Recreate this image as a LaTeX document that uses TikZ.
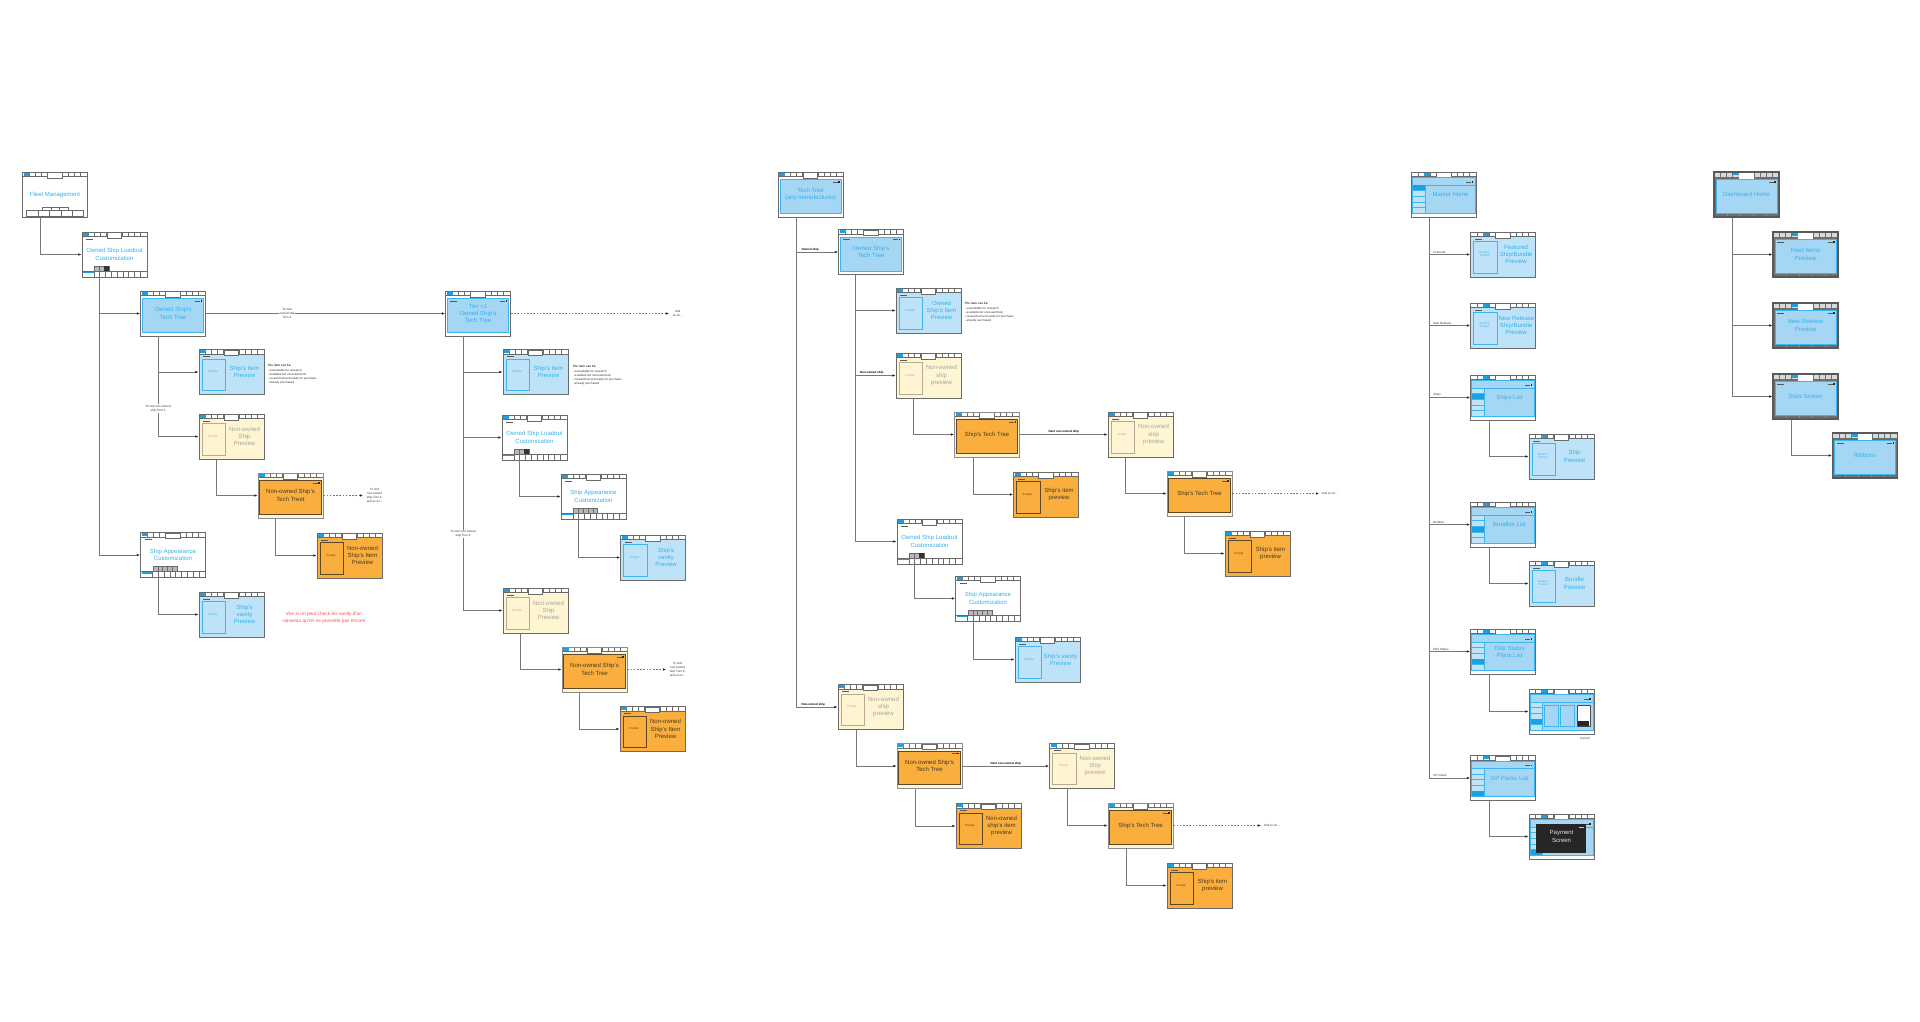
\documentclass[tikz,border=0pt]{standalone}
\usepackage{fontspec}
\setmainfont{Liberation Sans}
\usetikzlibrary{arrows.meta}

\definecolor{framegray}{HTML}{6A6A6A}
\definecolor{tabblue}{HTML}{1BA1E2}
\definecolor{skyfill}{HTML}{A5D7F5}
\definecolor{skyline}{HTML}{3DB5EE}
\definecolor{prevfill}{HTML}{BEE3F8}
\definecolor{txtblue}{HTML}{33B0EC}
\definecolor{cream}{HTML}{FFF5D2}
\definecolor{creamline}{HTML}{B3AB95}
\definecolor{orangefill}{HTML}{F9AE3E}
\definecolor{brownline}{HTML}{5C4727}
\definecolor{txtgray}{HTML}{A3A3A3}
\definecolor{txtdark}{HTML}{4A3A22}
\definecolor{dashgray}{HTML}{6E6E6E}
\definecolor{notered}{HTML}{FF4D4D}
\definecolor{linegray}{HTML}{787878}

\newcommand\scrfont{\fontsize{6}{7.3}\selectfont}
\newcommand\lblfont{\fontsize{3}{4.2}\selectfont}

% screen parts, from the north west corner (x right, y down), 65 x 45
\newcommand\bgfill[1]{\fill[#1] (0,0) rectangle (65,45);}
\newcommand\tabsbar[1]{%
    \fill[white] (0,0) rectangle (65,4.4);
    \foreach \x in {6.5,12.5,18.5,24.5,40,46,52,58}{\draw[framegray,line width=.3pt] (\x,0) -- (\x,4.4);}
    \draw[framegray,line width=.4pt] (0,4.4) -- (65,4.4);
    \fill[tabblue] (#1,.5) rectangle ++(6,3.2);
    \draw[framegray,line width=.4pt,fill=white] (25,.4) rectangle (39.5,6);}
\newcommand\closebtn{\fill[black!65] (54.5,9.6) rectangle (59.5,10.4); \fill[black!85] (60.3,9.2) rectangle (61.9,10.8);}
\newcommand\backbtn[1][6.6]{\fill[black!65] (4,#1) rectangle ++(7,.9);}
\newcommand\promptbox[1]{\draw[#1,line width=.7pt] (3,9.5) rectangle (26.5,41.2);}
\newcommand\fleetbar{%
    \foreach \x in {4,15.4,26.8,38.2,49.6}{\draw[framegray,line width=.4pt] (\x,38.6) rectangle ++(11.4,5.6);}
    \foreach \x in {20,28.5,37}{\draw[framegray,line width=.3pt,fill=white] (\x,35.6) rectangle ++(8.5,3);}}
\newcommand\loadbar[1]{%
    \draw[framegray,line width=.4pt] (0,39) -- (65,39);
    \fill[tabblue] (1,39.6) rectangle (11.8,41.2);
    \foreach \x in {11.8,17.6,...,64}{\draw[framegray,line width=.4pt] (\x,39) -- (\x,45);}
    \foreach \i in {1,...,#1}{\draw[framegray,line width=.3pt,fill=black!28] (7.7+4.8*\i,34) rectangle ++(4.8,5);}}
\newcommand\sidecells[1]{%
    \draw[skyline,line width=.5pt,fill=skyfill] (1.2,5.5) rectangle (63.8,41);
    \draw[skyline,line width=.5pt] (1.2,13) -- (63.8,13);
    \foreach \i in {1,...,5}{\draw[skyline,line width=.5pt,fill=skyfill!70] (1.2,7.4+5.6*\i) rectangle ++(12.5,5.6);}
    \fill[tabblue] (1.5,7.7+5.6*#1) rectangle ++(11.9,5);}
\newcommand\dashbar{%
    \fill[black!15] (0,0) rectangle (65,4.6);
    \foreach \x in {6.5,12.5,18.5,40,46,52,58}{\draw[dashgray,line width=.4pt] (\x,0) -- (\x,4.6);}
    \fill[tabblue] (18.5,.5) rectangle ++(6.5,3);
    \fill[white] (25,.5) rectangle (39.5,6.5);
    \draw[skyline,line width=.6pt,fill=skyfill] (1.8,7) rectangle (63.2,41);
    \foreach \x in {13,26,39,52}{\draw[black!45,line width=.4pt] (\x,41.5) -- (\x,44);}}

% whole screens
\newcommand\fleetdeco{\bgfill{white}\tabsbar{1}\fleetbar}
\newcommand\loaddeco{\bgfill{white}\tabsbar{1}\backbtn\loadbar{3}\fill[black!80] (22.1,34) rectangle ++(4.8,5);}
\newcommand\skindeco{\bgfill{white}\tabsbar{1}\backbtn\loadbar{5}}
\newcommand\treedeco[1]{\bgfill{white}\tabsbar{1}\draw[skyline,line width=.6pt,fill=skyfill] (1.8,7.3) rectangle (63.2,41.3);\closebtn#1}
\newcommand\prevdeco[2]{\bgfill{#1}\tabsbar{1}\backbtn\promptbox{#2}}
\newcommand\otreedeco{\bgfill{cream}\tabsbar{1}\draw[brownline,line width=.8pt,fill=orangefill] (1.8,7.6) rectangle (63.2,41.3);\closebtn}
\newcommand\mktdeco[1]{\bgfill{white}\tabsbar{12}\sidecells{#1}\closebtn}
\newcommand\mktprevdeco{\bgfill{prevfill}\tabsbar{12}\backbtn\promptbox{skyline}}
\newcommand\elitedeco{\mktdeco{4}%
    \draw[skyline,line width=.5pt,fill=skyfill] (15.5,16) rectangle (29,37.7) (31.5,16) rectangle (45.5,37.7);
    \draw[black!70,line width=.5pt,fill=white] (48,16) rectangle (61.3,37.7);
    \fill[black!85] (49,32.3) rectangle (60.3,36.7);}
\newcommand\paydeco{\mktdeco{5}\fill[black!85] (6.7,10) rectangle (57.3,39);\fill[white!80!black] (50,12.5) rectangle ++(5,.8);}
\newcommand\dashdeco[1]{\bgfill{dashgray}\dashbar\closebtn#1}

% name, centre, node style, screen parts, text
\newcommand\scrn[5]{%
    \begin{scope}[shift={(#2)}, xshift=-32.5pt, yshift=22.5pt]#4\end{scope}
    \node[screen, #3] (#1) at (#2) {#5};}

% prompt column + title, and list title
\newcommand\prm[2]{\parbox[c]{24pt}{\centering\fontsize{2.8}{3.4}\selectfont #1}\hspace{2pt}\parbox[c]{35pt}{\centering #2}}
\newcommand\lst[1]{\hspace*{13pt}\parbox[c]{48pt}{\centering #1}}
\newcommand\itemnote{\textbf{The item can be:}\\- unavailable for research,\\- available but unresearched,\\- researched and ready for purchase,\\- already purchased}

\tikzset{
    screen/.style={draw=framegray, line width=.9pt, minimum width=65pt, minimum height=45pt,
        inner sep=1pt, align=center, font=\scrfont, text=txtblue},
    graytxt/.style={text=txtgray},
    darktxt/.style={text=txtdark},
    otree/.style={draw=black!45, text=txtdark},
    darkframe/.style={draw=black!65, line width=1.2pt},
    conn/.style={draw=linegray, line width=.8pt, -{Latex[length=3.2pt,width=2.6pt,color=black!85]}},
    dots/.style={conn, dash pattern=on 1.6pt off 1.6pt},
    lbl/.style={font=\lblfont, align=center, text=black!80, inner sep=.6pt},
    onlbl/.style={lbl, fill=white},
    boldlbl/.style={lbl, font=\lblfont\bfseries, text=black},
    note/.style={lbl, align=left, anchor=north west},
    redtxt/.style={font=\fontsize{4.8}{7}\selectfont, align=center, text=notered, inner sep=0pt}
}

\begin{document}
\begin{tikzpicture}[x=1pt, y=-1pt]
    \useasboundingbox (0,0) rectangle (1920,1022);

    % fleet management
    \scrn{fm}{55,194.5}{}{\fleetdeco}{Fleet Management}
    \scrn{lo1}{114.5,254.5}{}{\loaddeco}{Owned Ship Loadout\\Customization}
    \scrn{ott1}{173,313.5}{}{\treedeco{}}{Owned Ship's\\Tech Tree}
    \scrn{sip1}{231.5,372}{}{\prevdeco{prevfill}{skyline}}{\prm{Prompt}{Ship's Item\\Preview}}
    \scrn{nop1}{231.5,436.5}{graytxt}{\prevdeco{cream}{creamline}}{\prm{Prompt}{Non-owned\\Ship\\Preview}}
    \scrn{ntt1}{290.5,495.5}{otree}{\otreedeco}{Non-owned Ship's\\Tech Treet}
    \scrn{nip1}{349.5,555.5}{darktxt}{\prevdeco{orangefill}{brownline}}{\prm{Prompt}{Non-owned\\Ship's Item\\Preview}}
    \scrn{sac1}{173,555}{}{\skindeco}{Ship Appearance\\Customization}
    \scrn{svp1}{231.5,614.5}{}{\prevdeco{prevfill}{skyline}}{\prm{Prompt}{Ship's\\vanity\\Preview}}
    \node[note] (n1) at (267,364) {\itemnote};
    \node[redtxt] (rmk) at (324,617.5) {Voir si on peut check les vanity d'un\\vaisseau qu'on ne possède pas encore};

    % next owned ship
    \scrn{ott2}{478,313.5}{}{\treedeco{\backbtn[9.6]}}{Tier +1\\Owned Ship's\\Tech Tree}
    \scrn{sip2}{535.5,372}{}{\prevdeco{prevfill}{skyline}}{\prm{Prompt}{Ship's Item\\Preview}}
    \scrn{lo2}{534.5,437.5}{}{\loaddeco}{Owned Ship Loadout\\Customization}
    \scrn{sac2}{593.5,496.5}{}{\skindeco}{Ship Appearance\\Customization}
    \scrn{svp2}{653,557.5}{}{\prevdeco{prevfill}{skyline}}{\prm{Prompt}{Ship's\\vanity\\Preview}}
    \scrn{nop2}{535.5,610.5}{graytxt}{\prevdeco{cream}{creamline}}{\prm{Prompt}{Non-owned\\Ship\\Preview}}
    \scrn{ntt2}{594.5,669.5}{otree}{\otreedeco}{Non-owned Ship's\\Tech Tree}
    \scrn{nip2}{652.5,729}{darktxt}{\prevdeco{orangefill}{brownline}}{\prm{Prompt}{Non-owned\\Ship's Item\\Preview}}
    \node[note] (n2) at (572,365) {\itemnote};

    % tech tree
    \scrn{tt3}{810.5,194.5}{}{\treedeco{}}{Tech Tree\\(any manufacturer)}
    \scrn{ott3}{871,252}{}{\treedeco{\backbtn[9.6]}}{Owned Ship's\\Tech Tree}
    \scrn{oip3}{928.5,310.5}{}{\prevdeco{prevfill}{skyline}}{\prm{Prompt}{Owned\\Ship's Item\\Preview}}
    \scrn{nop3}{928.5,375.5}{graytxt}{\prevdeco{cream}{creamline}}{\prm{Prompt}{Non-owned\\ship\\preview}}
    \scrn{stt3}{987,434.5}{otree}{\otreedeco}{Ship's Tech Tree}
    \scrn{sip3}{1046,494.5}{darktxt}{\prevdeco{orangefill}{brownline}}{\prm{Prompt}{Ship's item\\preview}}
    \scrn{nop3b}{1140.5,434.5}{graytxt}{\prevdeco{cream}{creamline}}{\prm{Prompt}{Non-owned\\ship\\preview}}
    \scrn{stt3b}{1199.5,493.5}{otree}{\otreedeco}{Ship's Tech Tree}
    \scrn{sip3b}{1257.5,553.5}{darktxt}{\prevdeco{orangefill}{brownline}}{\prm{Prompt}{Ship's item\\preview}}
    \scrn{lo3}{929.5,541.5}{}{\loaddeco}{Owned Ship Loadout\\Customization}
    \scrn{sac3}{988,598.5}{}{\skindeco}{Ship Appearance\\Customization}
    \scrn{svp3}{1047.5,659.5}{}{\prevdeco{prevfill}{skyline}}{\prm{Prompt}{Ship's vanity\\Preview}}
    \scrn{nop3c}{870.5,707}{graytxt}{\prevdeco{cream}{creamline}}{\prm{Prompt}{Non-owned\\ship\\preview}}
    \scrn{ntt3}{929.5,766}{otree}{\otreedeco}{Non-owned Ship's\\Tech Tree}
    \scrn{nip3}{988.5,826}{darktxt}{\prevdeco{orangefill}{brownline}}{\prm{Prompt}{Non-owned\\ship's item\\preview}}
    \scrn{nop3d}{1082,766}{graytxt}{\prevdeco{cream}{creamline}}{\prm{Prompt}{Non-owned\\Ship\\preview}}
    \scrn{stt3c}{1140.5,825.5}{otree}{\otreedeco}{Ship's Tech Tree}
    \scrn{sip3c}{1199.5,885.5}{darktxt}{\prevdeco{orangefill}{brownline}}{\prm{Prompt}{Ship's item\\preview}}
    \node[note] (n3) at (964,302) {\itemnote};

    % market
    \scrn{mh}{1444,194.5}{}{\mktdeco{1}}{\lst{Market Home}}
    \scrn{fsb}{1503,254.5}{}{\mktprevdeco}{\prm{Res/Pur\\Prompt}{Featured\\Ship/Bundle\\Preview}}
    \scrn{nrb}{1503,325.5}{}{\mktprevdeco}{\prm{Res/Pur\\Prompt}{\mbox{New Release}\\Ship/Bundle\\Preview}}
    \scrn{sl}{1503,397.5}{}{\mktdeco{2}}{\lst{Ships List}}
    \scrn{sp}{1561.5,456.5}{}{\mktprevdeco}{\prm{Res/Pur\\Prompt}{Ship\\Preview}}
    \scrn{bl}{1503,524.5}{}{\mktdeco{3}}{\lst{Bundles List}}
    \scrn{bp}{1561.5,583.5}{}{\mktprevdeco}{\prm{Res/Pur\\Prompt}{Bundle\\Preview}}
    \scrn{esl}{1503,651.5}{}{\mktdeco{4}}{\lst{Elite Status\\Plans List}}
    \scrn{esp}{1561.5,711.5}{}{\elitedeco}{}
    \node[lbl] (cnl) at (1585,738) {Cancel};
    \scrn{gpl}{1503,778}{}{\mktdeco{5}}{\lst{GP Packs List}}
    \scrn{pay}{1561.5,836.5}{text=white!90!black}{\paydeco}{Payment\\Screen}

    % dashboard
    \scrn{dh}{1746.5,194.5}{darkframe}{\dashdeco{}}{Dashboard Home}
    \scrn{fip}{1805.5,254.5}{darkframe}{\dashdeco{\backbtn[9.6]}}{Fleet Items\\Preview}
    \scrn{nrp}{1805.5,325.5}{darkframe}{\dashdeco{\backbtn[9.6]}}{New Release\\Preview}
    \scrn{ss}{1805.5,396.5}{darkframe}{\dashdeco{\backbtn[9.6]}}{Stats Screen}
    \scrn{rib}{1865,455.5}{darkframe}{\dashdeco{\backbtn[9.6]}}{Ribbons}

    % connectors
    \draw[conn] ([xshift=18pt]fm.south west) |- (lo1);
    \draw[conn] ([xshift=18pt]lo1.south west) |- (ott1);
    \draw[conn] ([xshift=18pt]lo1.south west) |- (sac1);
    \draw[conn] ([xshift=18pt]ott1.south west) |- (sip1);
    \draw[conn] ([xshift=18pt]ott1.south west) |- node[onlbl, pos=.36] (l1) {To next non-owned\\ship Tier+1} (nop1);
    \draw[conn] ([xshift=18pt]nop1.south west) |- (ntt1);
    \draw[conn] ([xshift=18pt]ntt1.south west) |- (nip1);
    \draw[conn] ([xshift=18pt]sac1.south west) |- (svp1);
    \draw[conn] (ott1) -- node[onlbl, pos=.34] (l2) {To next\\owned ship\\Tier+1} (ott2);
    \coordinate (e1) at (363,495.5);
    \draw[dots] (ntt1) -- (e1);
    \node[lbl, anchor=west] (l3) at ([xshift=3pt]e1) {To next\\non-owned\\ship Tier+2,\\and so on...};

    \draw[conn] ([xshift=18pt]ott2.south west) |- (sip2);
    \draw[conn] ([xshift=18pt]ott2.south west) |- (lo2);
    \draw[conn] ([xshift=18pt]ott2.south west) |- node[onlbl, pos=.36] (l4) {To next non-owned\\ship Tier+2} (nop2);
    \draw[conn] ([xshift=18pt]lo2.south west) |- (sac2);
    \draw[conn] ([xshift=18pt]sac2.south west) |- (svp2);
    \draw[conn] ([xshift=18pt]nop2.south west) |- (ntt2);
    \draw[conn] ([xshift=18pt]ntt2.south west) |- (nip2);
    \coordinate (e2) at (669,313.5);
    \draw[dots] (ott2) -- (e2);
    \node[lbl, anchor=west] (l5) at ([xshift=3pt]e2) {And\\so on...};
    \coordinate (e3) at (666,669.5);
    \draw[dots] (ntt2) -- (e3);
    \node[lbl, anchor=west] (l6) at ([xshift=3pt]e3) {To next\\non-owned\\ship Tier+3,\\and so on...};

    \draw[conn] ([xshift=19pt]tt3.south west) |- node[boldlbl, anchor=south west, pos=.55] (l7) {Owned ship} (ott3);
    \draw[conn] ([xshift=19pt]tt3.south west) |- node[boldlbl, anchor=south west, pos=.55] (l8) {Non-owned ship} (nop3c);
    \draw[conn] ([xshift=17pt]ott3.south west) |- (oip3);
    \draw[conn] ([xshift=17pt]ott3.south west) |- node[boldlbl, anchor=south west, pos=.55] (l9) {Non-owned ship} (nop3);
    \draw[conn] ([xshift=17pt]ott3.south west) |- (lo3);
    \draw[conn] ([xshift=18pt]nop3.south west) |- (stt3);
    \draw[conn] ([xshift=19pt]stt3.south west) |- (sip3);
    \draw[conn] (stt3) -- node[boldlbl, above] (l10) {Next non-owned ship} (nop3b);
    \draw[conn] ([xshift=18pt]nop3b.south west) |- (stt3b);
    \draw[conn] ([xshift=18pt]stt3b.south west) |- (sip3b);
    \coordinate (e4) at (1319,493.5);
    \draw[dots] (stt3b) -- (e4);
    \node[lbl, anchor=west] (l11) at ([xshift=2pt]e4) {And so on...};
    \draw[conn] ([xshift=18pt]lo3.south west) |- (sac3);
    \draw[conn] ([xshift=18pt]sac3.south west) |- (svp3);
    \draw[conn] ([xshift=19pt]nop3c.south west) |- (ntt3);
    \draw[conn] ([xshift=19pt]ntt3.south west) |- (nip3);
    \draw[conn] (ntt3) -- node[boldlbl, above] (l12) {Next non-owned ship} (nop3d);
    \draw[conn] ([xshift=18pt]nop3d.south west) |- (stt3c);
    \draw[conn] ([xshift=19pt]stt3c.south west) |- (sip3c);
    \coordinate (e5) at (1261,825.5);
    \draw[dots] (stt3c) -- (e5);
    \node[lbl, anchor=west] (l13) at ([xshift=2pt]e5) {And so on...};

    \draw[conn] ([xshift=18pt]mh.south west) |- node[lbl, anchor=south west, pos=.54] (m1) {Featured} (fsb);
    \draw[conn] ([xshift=18pt]mh.south west) |- node[lbl, anchor=south west, pos=.54] (m2) {New Release} (nrb);
    \draw[conn] ([xshift=18pt]mh.south west) |- node[lbl, anchor=south west, pos=.54] (m3) {Ships} (sl);
    \draw[conn] ([xshift=18pt]mh.south west) |- node[lbl, anchor=south west, pos=.54] (m4) {Bundles} (bl);
    \draw[conn] ([xshift=18pt]mh.south west) |- node[lbl, anchor=south west, pos=.54] (m5) {Elite Status} (esl);
    \draw[conn] ([xshift=18pt]mh.south west) |- node[lbl, anchor=south west, pos=.54] (m6) {GP Packs} (gpl);
    \draw[conn] ([xshift=19pt]sl.south west) |- (sp);
    \draw[conn] ([xshift=19pt]bl.south west) |- (bp);
    \draw[conn] ([xshift=19pt]esl.south west) |- (esp);
    \draw[conn] ([xshift=19pt]gpl.south west) |- (pay);

    \draw[conn] ([xshift=19pt]dh.south west) |- (fip);
    \draw[conn] ([xshift=19pt]dh.south west) |- (nrp);
    \draw[conn] ([xshift=19pt]dh.south west) |- (ss);
    \draw[conn] ([xshift=19pt]ss.south west) |- (rib);
\end{tikzpicture}
\end{document}
